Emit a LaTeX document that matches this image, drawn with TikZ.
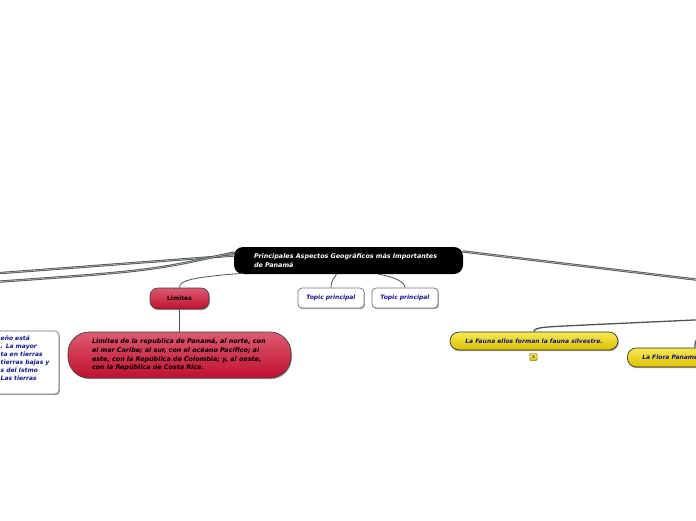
\documentclass[tikz,border=0pt]{standalone}
\usepackage{fontspec}
\setmainfont{DejaVu Sans}
\usetikzlibrary{shadows}
\definecolor{navy}{HTML}{14148C}
\definecolor{redtop}{HTML}{DE5A72}
\definecolor{redbot}{HTML}{C0102E}
\definecolor{yeltop}{HTML}{F6E855}
\definecolor{yelbot}{HTML}{DCC200}
\definecolor{linedark}{HTML}{4E5452}
\definecolor{linelight}{HTML}{A8B0AE}
\tikzset{
  txt/.style={font=\fontsize{6}{8.6}\selectfont\bfseries\itshape},
  bigtxt/.style={font=\fontsize{6.4}{8.7}\selectfont\bfseries\itshape},
  shad/.style={drop shadow={shadow xshift=0.8pt,shadow yshift=-1.2pt,fill=black,opacity=0.35}},
  rootbox/.style={rounded corners=9pt, fill=black, text=white, bigtxt, align=left,
    minimum height=27pt, text width=189pt, inner xsep=20pt, inner ysep=0pt},
  redpill/.style={shad, rounded corners=10pt, draw=black!75, line width=0.7pt,
    top color=redtop, bottom color=redbot, text=black},
  topicbox/.style={shad, rounded corners=4pt, draw=black!55, line width=0.7pt, fill=white,
    text=navy, txt, minimum width=66pt, minimum height=20pt, inner sep=0pt},
  yelpill/.style={shad, rounded corners=9pt, draw=black!80, line width=0.7pt,
    top color=yeltop, bottom color=yelbot, text=navy, txt, minimum height=18pt, inner sep=0pt},
  thickconn/.style={line width=2.3pt, draw=linedark, line cap=round},
  thickhi/.style={line width=0.7pt, draw=linelight},
  thinconn/.style={line width=0.8pt, draw=linedark},
}
\begin{document}
\begin{tikzpicture}[x=1pt,y=-1pt]
\useasboundingbox[fill=white] (0,0) rectangle (696,520);

% offscreen coordinates
\coordinate (offL1) at (-20,274.6);
\coordinate (offL2) at (-20,283);
\coordinate (offR1) at (716,282);
\coordinate (offR2) at (716,319);
\coordinate (offR3) at (700,334);

% nodes
\node[rootbox] (root) at (348.5,260.5) {Principales Aspectos Geográficos más Importantes\\de Panamá};

\node[redpill, rounded corners=8pt, font=\fontsize{6}{8}\selectfont\bfseries, minimum width=59pt, minimum height=21pt, inner sep=0pt] (lim) at (179.5,298.5) {Limites};

\node[redpill, rounded corners=21pt, bigtxt, align=left, text width=175pt, inner xsep=24pt, minimum height=46pt, inner ysep=0pt] (limdet) at (179.5,355) {Limites de la republica de Panamá, al norte, con\\el mar Caribe; al sur, con el océano Pacífico; al\\este, con la República de Colombia; y, al oeste,\\con la República de Costa Rica.};

\node[topicbox] (tp1) at (331,298) {Topic principal};
\node[topicbox] (tp2) at (405,298) {Topic principal};

\node[yelpill, minimum width=168pt] (fauna) at (534,341) {La Fauna ellos forman la fauna silvestre.};
\node[draw=black!60, line width=0.4pt, rounded corners=1.5pt, top color=yeltop, bottom color=yelbot, minimum width=7.5pt, minimum height=7.5pt, inner sep=0pt, font=\fontsize{4}{4}\selectfont\bfseries, text=black!70] (badge) at (533.5,357) {3};

\node[yelpill, anchor=west, minimum width=150pt, minimum height=19pt, align=left, text width=120pt, inner xsep=15pt] (flora) at (627,357.5) {La Flora Panameña};

\node[shad, draw=black!55, line width=0.7pt, fill=white, rounded corners=4pt, minimum width=120pt, minimum height=63pt] (leftbox) at (-1,362.5) {};
\node[text=navy, anchor=north west, align=left, inner sep=0pt, font=\fontsize{6}{8}\selectfont\bfseries\itshape] (lefttext) at (0.5,335.5) {eño está\\. La mayor\\ta en tierras\\tierras bajas y\\s del Istmo\\Las tierras};

% connectors
\draw[thickconn] ([yshift=5pt]root.west) -- (offL1);
\draw[thickhi] ([yshift=5pt]root.west) -- (offL1);
\draw[thickconn] ([yshift=8pt]root.west) .. controls (150,271) .. (offL2);
\draw[thickhi] ([yshift=8pt]root.west) .. controls (150,271) .. (offL2);
\draw[thickconn] ([yshift=9pt]root.east) -- (offR1);
\draw[thickhi] ([yshift=9pt]root.east) -- (offR1);

\draw[thinconn] (lim.north) .. controls (179,280) and (195,277) .. ([xshift=10pt,yshift=1pt]root.south west);
\draw[line width=1.4pt, draw=linedark] (lim.south) -- (limdet.north);
\draw[thinconn] (tp1.north) .. controls (331,280) and (335,277) .. ([xshift=-12pt]root.south);
\draw[thinconn] (tp2.north) .. controls (405,282) and (395,277) .. ([xshift=30pt]root.south);

\draw[line width=1.3pt, draw=linedark] (fauna.north) .. controls (534,327) and (545,327) .. (585,325) -- (offR2);
\draw[line width=1.3pt, draw=linedark] ([xshift=68pt]flora.north west) .. controls (695,342) .. (offR3);
\end{tikzpicture}
\end{document}
